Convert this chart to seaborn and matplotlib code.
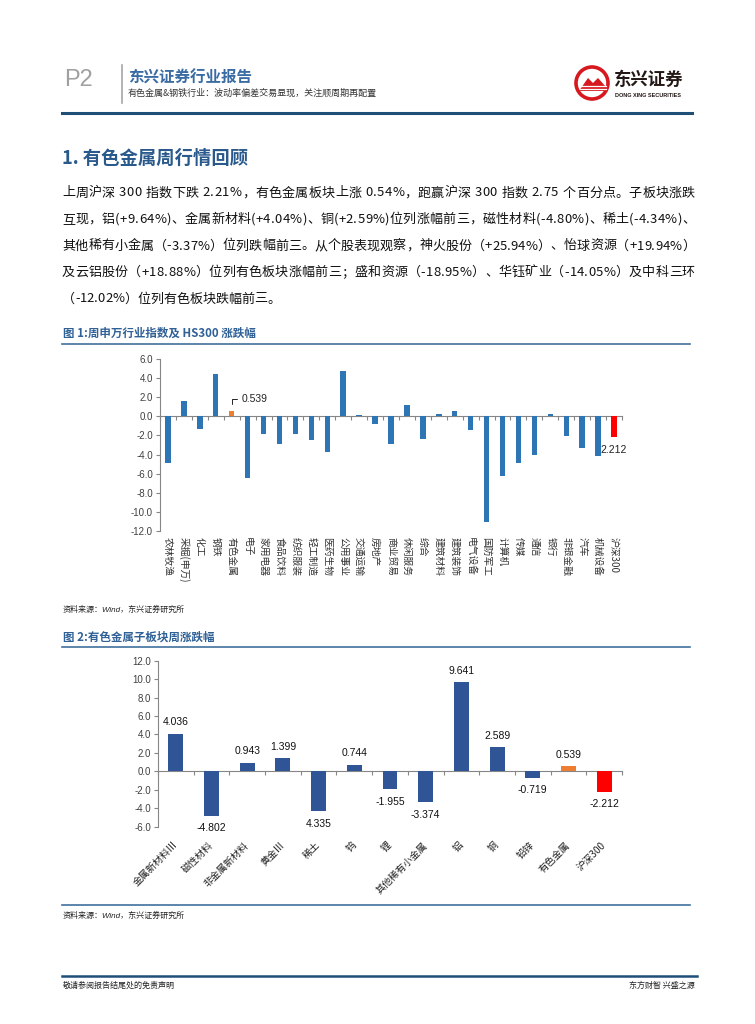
import numpy as np
import pandas as pd
import matplotlib
matplotlib.use("Agg")
import matplotlib.pyplot as plt
import seaborn as sns
from matplotlib.patches import Circle, Polygon
from matplotlib.lines import Line2D

# ---------------- data ----------------
industries = ["农林牧渔", "采掘(申万)", "化工", "钢铁", "有色金属", "电子", "家用电器",
              "食品饮料", "纺织服装", "轻工制造", "医药生物", "公用事业", "交通运输",
              "房地产", "商业贸易", "休闲服务", "综合", "建筑材料", "建筑装饰", "电气设备",
              "国防军工", "计算机", "传媒", "通信", "银行", "非银金融", "汽车", "机械设备",
              "沪深300"]
industry_chg = [-4.85, 1.62, -1.30, 4.45, 0.539, -6.50, -1.90, -2.85, -1.90, -2.50,
                -3.75, 4.77, 0.15, -0.77, -2.85, 1.19, -2.35, 0.25, 0.53, -1.47,
                -11.10, -6.20, -4.85, -4.07, 0.25, -2.07, -3.30, -4.20, -2.212]
chart1_yticks = [-12, -10, -8, -6, -4, -2, 0, 2, 4, 6]

subsectors = ["金属新材料Ⅲ", "磁性材料", "非金属新材料", "黄金Ⅲ", "稀土", "钨", "锂",
              "其他稀有小金属", "铝", "铜", "铅锌", "有色金属", "沪深300"]
subsector_chg = [4.036, -4.802, 0.943, 1.399, -4.335, 0.744, -1.955, -3.374,
                 9.641, 2.589, -0.719, 0.539, -2.212]
subsector_labels = ["4.036", "-4.802", "0.943", "1.399", "4.335", "0.744", "-1.955",
                    "-3.374", "9.641", "2.589", "-0.719", "0.539", "-2.212"]
chart2_yticks = [-6, -4, -2, 0, 2, 4, 6, 8, 10, 12]

paragraph = [
    "上周沪深 300 指数下跌 2.21%，有色金属板块上涨 0.54%，跑赢沪深 300 指数 2.75 个百分点。子板块涨跌",
    "互现，铝(+9.64%)、金属新材料(+4.04%)、铜(+2.59%)位列涨幅前三，磁性材料(-4.80%)、稀土(-4.34%)、",
    "其他稀有小金属（-3.37%）位列跌幅前三。从个股表现观察，神火股份（+25.94%）、怡球资源（+19.94%）",
    "及云铝股份（+18.88%）位列有色板块涨幅前三；盛和资源（-18.95%）、华钰矿业（-14.05%）及中科三环",
    "（-12.02%）位列有色板块跌幅前三。",
]

# ---------------- style ----------------
plt.rcParams["font.family"] = ["Liberation Sans", "Noto Sans CJK SC", "DejaVu Sans"]
CJK = ["Noto Sans CJK SC", "DejaVu Sans"]
W, H = 755, 1024
BLUE1 = "#2E75B6"
BLUE2 = "#2F5597"
ORANGE = "#ED7D31"
RED = "#FF0000"
GREY = "#868686"
NAVY = "#1F4E79"
CAP = "#2F6096"

fig = plt.figure(figsize=(W / 100, H / 100), dpi=100)
page = fig.add_axes([0, 0, 1, 1])
page.set_xlim(0, W)
page.set_ylim(H, 0)
page.axis("off")
page.patch.set_visible(False)

# ---------------- header ----------------
page.text(64, 80, "P2", fontsize=17, color="#A0A0A0", va="center", ha="left",
          family=["Liberation Sans"])
page.add_line(Line2D([121.5, 121.5], [65, 103], color="#A6A6A6", lw=1.2))
page.text(128, 78, "东兴证券行业报告", fontsize=11.2, weight="bold", color="#3A6CA3",
          va="center", ha="left", family=CJK)
page.text(128, 93, "有色金属&钢铁行业：波动率偏差交易显现，关注顺周期再配置", fontsize=6.5,
          color="#333333", va="center", ha="left", family=CJK)
page.add_line(Line2D([62, 692], [113, 113], color=NAVY, lw=2.2))

# logo
page.add_patch(Circle((592, 83), 16, fc="white", ec="#D7191F", lw=2.6))
page.add_patch(Polygon([(579, 91), (588, 78), (593, 83), (598, 78), (606, 87), (606, 91)],
                       closed=True, fc="#D7191F", ec="none"))
for yy in (85.5, 88.5):
    page.add_line(Line2D([580, 606], [yy, yy], color="white", lw=0.9))
page.text(614, 80, "东兴证券", fontsize=12.5, weight="bold", color="#231815",
          va="center", ha="left", family=CJK)
page.text(615, 95.5, "DONG XING SECURITIES", fontsize=4.0, weight="bold", color="#231815",
          va="center", ha="left", family=["Liberation Sans"])

# ---------------- section title & paragraph ----------------
page.text(62, 158, "1. 有色金属周行情回顾", fontsize=13.2, weight="bold", color="#2A5A8C",
          va="center", ha="left", family=CJK)

renderer = fig.canvas.get_renderer()
FS = 9.4


def justified_line(line, y, x0, x1, justify=True):
    texts = [page.text(0, y, ch, fontsize=FS, color="#111111", va="center", ha="left",
                       family=CJK) for ch in line]
    widths = []
    for ch, t in zip(line, texts):
        if ch == " ":
            widths.append(FS * 100 / 72 * 0.28)
        else:
            widths.append(t.get_window_extent(renderer).width)
    total = sum(widths)
    gap = (x1 - x0 - total) / (len(line) - 1) if justify else 0.0
    x = x0
    for t, w in zip(texts, widths):
        t.set_x(x)
        x += w + gap


para_y = [193, 219.5, 246, 272.5, 299]
for i, (line, y) in enumerate(zip(paragraph, para_y)):
    justified_line(line, y, 62, 695, justify=(i < len(paragraph) - 1))

# ---------------- figure captions ----------------
page.text(63, 333.5, "图 1:周申万行业指数及 HS300 涨跌幅", fontsize=8.3, weight="bold",
          color=CAP, va="center", ha="left", family=CJK)
page.add_line(Line2D([62, 690], [343.5, 343.5], color="#41719C", lw=1.2))
page.text(63, 610, "资料来源：Wind，东兴证券研究所", fontsize=5.8, style="italic",
          color="#222222", va="center", ha="left")

page.text(63, 637, "图 2:有色金属子板块周涨跌幅", fontsize=8.3, weight="bold",
          color=CAP, va="center", ha="left", family=CJK)
page.add_line(Line2D([62, 690], [647, 647], color="#41719C", lw=1.2))
page.add_line(Line2D([62, 690], [905, 905], color="#41719C", lw=1.2))
page.text(63, 916, "资料来源：Wind，东兴证券研究所", fontsize=5.8, style="italic",
          color="#222222", va="center", ha="left")

# ---------------- footer ----------------
page.add_line(Line2D([62, 697], [975.5, 975.5], color=NAVY, lw=1.8))
page.text(63, 985.5, "敬请参阅报告结尾处的免责声明", fontsize=5.8, color="#222222",
          va="center", ha="left", family=CJK)
page.text(695, 985.5, "东方财智 兴盛之源", fontsize=5.8, color="#222222",
          va="center", ha="right", family=CJK)


def style_axes(ax, yticks, ncat, zero_frac):
    ax.set_ylim(min(yticks), max(yticks))
    ax.set_xlim(-0.5, ncat - 0.5)
    ax.set_yticks(yticks)
    ax.set_yticklabels([f"{v:.1f}" for v in yticks], fontsize=7, color="#404040")
    ax.set_xlabel("")
    ax.set_ylabel("")
    for s in ("top", "right", "bottom"):
        ax.spines[s].set_visible(False)
    ax.spines["left"].set_color(GREY)
    ax.spines["left"].set_linewidth(0.8)
    ax.tick_params(axis="y", direction="out", length=3, color=GREY, width=0.8, pad=2)
    ax.tick_params(axis="x", length=0)
    ax.patch.set_visible(False)
    sec = ax.secondary_xaxis(zero_frac)
    sec.set_alignment("bottom")
    sec.set_xticks(np.arange(-0.5, ncat, 1.0))
    sec.set_xticklabels([])
    sec.tick_params(direction="out", length=3, color=GREY, width=0.8)
    sec.spines["bottom"].set_color(GREY)
    sec.spines["bottom"].set_linewidth(0.8)
    return sec


# ---------------- chart 1 ----------------
ax1 = fig.add_axes([160 / W, 1 - 531 / H, 462 / W, 172 / H])
df1 = pd.DataFrame({"industry": industries, "chg": industry_chg})
pal1 = {k: BLUE1 for k in industries}
pal1["有色金属"] = ORANGE
pal1["沪深300"] = RED
sns.barplot(data=df1, x="industry", y="chg", hue="industry", palette=pal1, width=0.34,
            saturation=1, legend=False, ax=ax1, linewidth=0)
style_axes(ax1, chart1_yticks, len(industries), 12 / 18)
ax1.set_xticks(range(len(industries)))
ax1.set_xticklabels(industries, rotation=270, fontsize=7, color="#333333",
                    ha="center", va="top", family=CJK)
ax1.tick_params(axis="x", pad=4)

i_nf = industries.index("有色金属")
ax1.annotate(f"{industry_chg[i_nf]:.3f}", xy=(i_nf, industry_chg[i_nf]),
             xytext=(7, 9), textcoords="offset points", ha="left", va="center",
             fontsize=7.5, color="#222222",
             arrowprops=dict(arrowstyle="-", color="#222222", lw=0.7,
                             connectionstyle="angle,angleA=0,angleB=90,rad=0",
                             shrinkA=1, shrinkB=5))
i_hs = industries.index("沪深300")
ax1.annotate(f"{abs(industry_chg[i_hs]):.3f}", xy=(i_hs, industry_chg[i_hs]),
             xytext=(0, -9), textcoords="offset points", ha="center", va="center",
             fontsize=7.5, color="#222222")

# ---------------- chart 2 ----------------
ax2 = fig.add_axes([158 / W, 1 - 826.7 / H, 464 / W, 166 / H])
df2 = pd.DataFrame({"sector": subsectors, "chg": subsector_chg})
pal2 = {k: BLUE2 for k in subsectors}
pal2["有色金属"] = ORANGE
pal2["沪深300"] = RED
sns.barplot(data=df2, x="sector", y="chg", hue="sector", palette=pal2, width=0.42,
            saturation=1, legend=False, ax=ax2, linewidth=0)
style_axes(ax2, chart2_yticks, len(subsectors), 6 / 18)
ax2.set_xticks(range(len(subsectors)))
ax2.set_xticklabels(subsectors, rotation=45, fontsize=7, color="#222222",
                    ha="right", va="center", rotation_mode="anchor", family=CJK)
ax2.tick_params(axis="x", pad=12)
for i, (v, lab) in enumerate(zip(subsector_chg, subsector_labels)):
    ax2.annotate(lab, xy=(i, v), xytext=(0, 8.5 if v >= 0 else -9),
                 textcoords="offset points", ha="center", va="center",
                 fontsize=7.5, color="#111111")

fig.savefig("out.png", dpi=100)
